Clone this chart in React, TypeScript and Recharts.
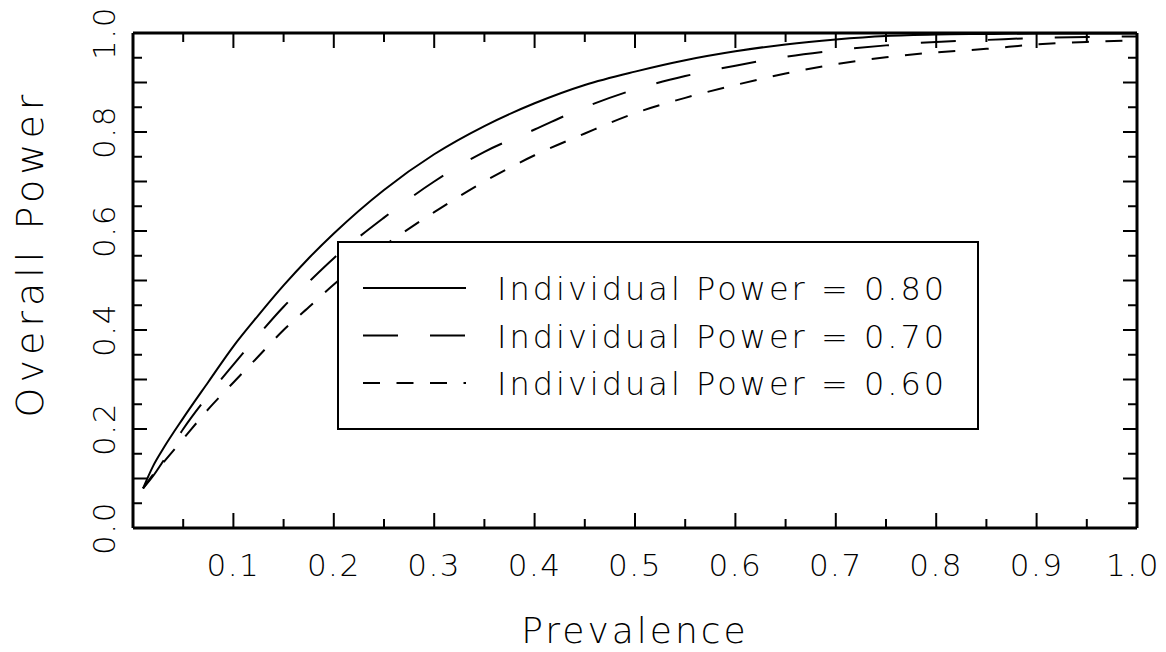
import React from "react";
import { LineChart, Line, XAxis, YAxis, Legend } from "recharts";

// Prevalence grid (x values)
const prevalence = [
  0.01, 0.02, 0.03, 0.05, 0.075, 0.1, 0.125, 0.15, 0.175, 0.2, 0.25, 0.3, 0.35,
  0.4, 0.45, 0.5, 0.55, 0.6, 0.65, 0.7, 0.75, 0.8, 0.85, 0.9, 0.95, 1.0,
];

// Overall power for individual power = 0.80
const power80 = [
  0.08, 0.125, 0.16, 0.222, 0.295, 0.367, 0.43, 0.49, 0.545, 0.595, 0.683,
  0.755, 0.812, 0.858, 0.895, 0.922, 0.945, 0.963, 0.977, 0.987, 0.994, 0.997,
  0.998, 0.999, 0.999, 0.999,
];

// Overall power for individual power = 0.70
const power70 = [
  0.08, 0.105, 0.135, 0.2, 0.268, 0.33, 0.39, 0.447, 0.497, 0.545, 0.627, 0.7,
  0.76, 0.805, 0.85, 0.886, 0.913, 0.934, 0.952, 0.965, 0.975, 0.982, 0.986,
  0.99, 0.992, 0.993,
];

// Overall power for individual power = 0.60
const power60 = [
  0.08, 0.108, 0.132, 0.18, 0.24, 0.294, 0.347, 0.4, 0.446, 0.492, 0.57, 0.638,
  0.7, 0.753, 0.797, 0.838, 0.869, 0.895, 0.918, 0.937, 0.951, 0.961, 0.968,
  0.977, 0.982, 0.985,
];

const seriesLabels = ["0.80", "0.70", "0.60"];
const seriesKeys = ["p80", "p70", "p60"];
const seriesDash = [undefined, "35 32", "17 16.5"];

const xTicks = [
  0, 0.05, 0.1, 0.15, 0.2, 0.25, 0.3, 0.35, 0.4, 0.45, 0.5, 0.55, 0.6, 0.65,
  0.7, 0.75, 0.8, 0.85, 0.9, 0.95, 1.0,
];
const yTicks = [
  0, 0.05, 0.1, 0.15, 0.2, 0.25, 0.3, 0.35, 0.4, 0.45, 0.5, 0.55, 0.6, 0.65,
  0.7, 0.75, 0.8, 0.85, 0.9, 0.95, 1.0,
];

const data = prevalence.map((p, i) => ({
  x: p,
  p80: power80[i],
  p70: power70[i],
  p60: power60[i],
}));

const FONT = "'DejaVu Sans', 'Liberation Sans', sans-serif";
const FW = 200;

const isMult = (v: number, step: number) =>
  Math.abs(v / step - Math.round(v / step)) < 1e-6;

const BottomTick = (props: any) => {
  const { x, y, payload } = props;
  const v = payload.value as number;
  const major = isMult(v, 0.1);
  return (
    <g>
      <line x1={x} x2={x} y1={y} y2={y - (major ? 15 : 9)} stroke="#000" strokeWidth={2} />
      {major && v > 0.001 && (
        <text
          x={v > 0.999 ? x - 4 : x}
          y={y + 48}
          textAnchor="middle"
          fontFamily={FONT}
          fontWeight={FW}
          fontSize={31}
          letterSpacing={1.5}
          fill="#000"
        >
          {v.toFixed(1)}
        </text>
      )}
    </g>
  );
};

const TopTick = (props: any) => {
  const { x, y, payload } = props;
  const major = isMult(payload.value, 0.1);
  return <line x1={x} x2={x} y1={y} y2={y + (major ? 15 : 9)} stroke="#000" strokeWidth={2} />;
};

const LeftTick = (props: any) => {
  const { x, y, payload } = props;
  const v = payload.value as number;
  const major = isMult(v, 0.1);
  const labeled = isMult(v, 0.2);
  const tx = x - 18;
  return (
    <g>
      <line x1={x} x2={x + (major ? 14 : 9)} y1={y} y2={y} stroke="#000" strokeWidth={2} />
      {labeled && (
        <text
          x={tx}
          y={y}
          transform={`rotate(-90 ${tx} ${y})`}
          textAnchor="middle"
          fontFamily={FONT}
          fontWeight={FW}
          fontSize={31}
          letterSpacing={1.5}
          fill="#000"
        >
          {v.toFixed(1)}
        </text>
      )}
    </g>
  );
};

const RightTick = (props: any) => {
  const { x, y, payload } = props;
  const major = isMult(payload.value, 0.1);
  return <line x1={x} x2={x - (major ? 14 : 9)} y1={y} y2={y} stroke="#000" strokeWidth={2} />;
};

const XLabel = (props: any) => {
  const vb = props.viewBox || {};
  const cx = vb.x + vb.width / 2;
  return (
    <text
      x={cx}
      y={vb.y + 115}
      textAnchor="middle"
      fontFamily={FONT}
      fontWeight={FW}
      fontSize={36}
      letterSpacing={3}
      fill="#000"
    >
      Prevalence
    </text>
  );
};

const YLabel = (props: any) => {
  const vb = props.viewBox || {};
  const tx = vb.x + vb.width - 90;
  const ty = vb.y + vb.height / 2 - 27;
  return (
    <text
      x={tx}
      y={ty}
      transform={`rotate(-90 ${tx} ${ty})`}
      textAnchor="middle"
      fontFamily={FONT}
      fontWeight={FW}
      fontSize={38}
      letterSpacing={5}
      fill="#000"
    >
      Overall Power
    </text>
  );
};

const LegendBox = () => (
  <svg width={638} height={185} style={{ display: "block" }}>
    {seriesLabels.map((lab, i) => {
      const ly = 45 + i * 47.5;
      return (
        <g key={lab}>
          <line
            x1={24}
            x2={127}
            y1={ly}
            y2={ly}
            stroke="#000"
            strokeWidth={2}
            strokeDasharray={seriesDash[i]}
          />
          <text
            x={158}
            y={ly + 12}
            fontFamily={FONT}
            fontWeight={FW}
            fontSize={32}
            letterSpacing={3}
            fill="#000"
          >
            {`Individual Power = ${lab}`}
          </text>
        </g>
      );
    })}
  </svg>
);

export default function App() {
  return (
    <div style={{ width: 1166, height: 652, margin: -8, background: "#fff" }}>
      <LineChart
        width={1166}
        height={652}
        data={data}
        margin={{ top: 32, right: 28, bottom: 123, left: 132 }}
      >
        <XAxis
          xAxisId="bottom"
          dataKey="x"
          type="number"
          domain={[0, 1]}
          ticks={xTicks}
          interval={0}
          height={1}
          tickSize={0}
          tickMargin={0}
          tickLine={false}
          axisLine={{ stroke: "#000", strokeWidth: 3 }}
          tick={<BottomTick />}
          label={<XLabel />}
          allowDataOverflow
        />
        <XAxis
          xAxisId="top"
          orientation="top"
          dataKey="x"
          type="number"
          domain={[0, 1]}
          ticks={xTicks}
          interval={0}
          height={1}
          tickSize={0}
          tickMargin={0}
          tickLine={false}
          axisLine={{ stroke: "#000", strokeWidth: 3 }}
          tick={<TopTick />}
          allowDataOverflow
        />
        <YAxis
          yAxisId="left"
          type="number"
          domain={[0, 1]}
          ticks={yTicks}
          interval={0}
          width={1}
          tickSize={0}
          tickMargin={0}
          tickLine={false}
          axisLine={{ stroke: "#000", strokeWidth: 3 }}
          tick={<LeftTick />}
          label={<YLabel />}
          allowDataOverflow
        />
        <YAxis
          yAxisId="right"
          orientation="right"
          type="number"
          domain={[0, 1]}
          ticks={yTicks}
          interval={0}
          width={1}
          tickSize={0}
          tickMargin={0}
          tickLine={false}
          axisLine={{ stroke: "#000", strokeWidth: 3 }}
          tick={<RightTick />}
          allowDataOverflow
        />
        {seriesKeys.map((k, i) => (
          <Line
            key={k}
            xAxisId="bottom"
            yAxisId="left"
            dataKey={k}
            type="monotone"
            stroke="#000"
            strokeWidth={2}
            strokeDasharray={seriesDash[i]}
            dot={false}
            activeDot={false}
            isAnimationActive={false}
          />
        ))}
        <Line
          xAxisId="top"
          yAxisId="right"
          dataKey="p80"
          stroke="none"
          dot={false}
          activeDot={false}
          legendType="none"
          isAnimationActive={false}
        />
        <Legend
          layout="horizontal"
          verticalAlign="middle"
          align="center"
          content={<LegendBox />}
          wrapperStyle={{
            left: 337,
            top: 241,
            width: 642,
            height: 189,
            border: "2px solid #000",
            background: "#fff",
            boxSizing: "border-box",
          }}
        />
      </LineChart>
    </div>
  );
}
